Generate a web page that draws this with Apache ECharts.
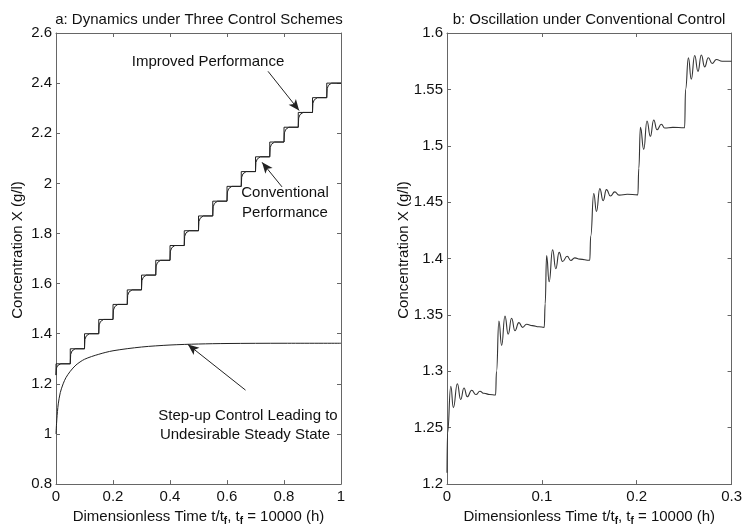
<!DOCTYPE html>
<html>
<head>
<meta charset="utf-8">
<title>Control schemes</title>
<script src="https://cdn.jsdelivr.net/npm/echarts/dist/echarts.min.js"></script>
<style>
  html, body { margin: 0; padding: 0; background: #fff; }
  #chart { width: 745px; height: 531px; }
</style>
</head>
<body>
<div id="chart"></div>
<script>
// ---- plot a: the three control schemes ----
// time at which each set point step starts (t/tf)
var stepTimes = [0, 0.05, 0.1, 0.15, 0.2, 0.25, 0.3, 0.35, 0.4, 0.45,
                 0.5, 0.55, 0.6, 0.65, 0.7, 0.75, 0.8, 0.85, 0.9, 0.95];
// level reached on each step
var stepLevels = [1.28, 1.34, 1.40, 1.457, 1.517, 1.575, 1.634, 1.693, 1.752, 1.811,
                  1.870, 1.929, 1.988, 2.047, 2.106, 2.165, 2.224, 2.283, 2.342, 2.40];
var stairStart = 1.235;
// shape of the improved rise inside one step (time offset, share of the rise done)
var improvedDt = [0, 0.0015, 0.006, 0.017];
var improvedShare = [0, 0.62, 0.85, 1];
// step-up control curve
var stepUpT = [0, 0.003, 0.008, 0.015, 0.025, 0.035, 0.05, 0.07, 0.1, 0.15, 0.2, 0.3, 0.4, 0.5, 0.6, 0.8, 1.0];
var stepUpX = [1.0, 1.06, 1.12, 1.165, 1.2, 1.225, 1.25, 1.275, 1.298, 1.318, 1.332, 1.347, 1.355, 1.359, 1.361, 1.362, 1.362];
// annotation arrows [fromT, fromX, toT, toX]
var arrowsA = [
  [0.744, 2.447, 0.853, 2.291],
  [0.793, 1.986, 0.723, 2.084],
  [0.665, 1.175, 0.463, 1.357]
];

// ---- plot b: oscillation under conventional control ----
var oscT = [0, 0.0005, 0.004, 0.0067, 0.0109, 0.0144, 0.0179, 0.0214, 0.026, 0.0305, 0.0347, 0.039, 0.045, 0.0512,
            0.0522, 0.0547, 0.0576, 0.0611, 0.0645, 0.0681, 0.0716, 0.0758, 0.0797, 0.0839, 0.09, 0.097, 0.1025,
            0.1035, 0.105, 0.1077, 0.1113, 0.1147, 0.1182, 0.1218, 0.1267, 0.1305, 0.1347, 0.14, 0.1505,
            0.1515, 0.1547, 0.1576, 0.1611, 0.1646, 0.1681, 0.1723, 0.1768, 0.1814, 0.19, 0.2012,
            0.2022, 0.2039, 0.2074, 0.2108, 0.2144, 0.2179, 0.2214, 0.226, 0.2295, 0.238, 0.2505,
            0.2515, 0.2545, 0.2575, 0.2611, 0.2646, 0.2681, 0.2716, 0.2755, 0.2795, 0.284, 0.29, 0.3];
var oscX = [1.21, 1.245, 1.2867, 1.2678, 1.289, 1.275, 1.2852, 1.2774, 1.2832, 1.2794, 1.2823, 1.2805, 1.2795, 1.279,
            1.30, 1.3446, 1.3229, 1.349, 1.333, 1.347, 1.336, 1.3432, 1.339, 1.3417, 1.3405, 1.3395, 1.339,
            1.36, 1.4026, 1.3794, 1.4078, 1.391, 1.4055, 1.3974, 1.402, 1.3983, 1.4006, 1.3995, 1.3985,
            1.42, 1.4577, 1.4417, 1.462, 1.4513, 1.4611, 1.4554, 1.4591, 1.4562, 1.457, 1.4565,
            1.48, 1.5163, 1.4968, 1.522, 1.5084, 1.5229, 1.5142, 1.5191, 1.5157, 1.5163, 1.516,
            1.55, 1.578, 1.559, 1.58, 1.566, 1.5805, 1.570, 1.578, 1.573, 1.5765, 1.575, 1.575];

var lineColor = '#222';
var boxColor = '#666';
var fontName = 'Liberation Sans';

function pairs(xs, ys) {
  var out = [];
  for (var i = 0; i < xs.length; i++) out.push([xs[i], ys[i]]);
  return out;
}

// conventional: sharp steps
var conventional = [[0, stairStart]];
stepTimes.forEach(function (t, k) {
  if (k > 0) conventional.push([t, stepLevels[k - 1]]);
  conventional.push([t, stepLevels[k]]);
});
conventional.push([1, stepLevels[stepLevels.length - 1]]);

// improved: quick rise that bends onto the new level
var improved = [];
stepTimes.forEach(function (t, k) {
  var from = k > 0 ? stepLevels[k - 1] : stairStart;
  improvedDt.forEach(function (dt, j) {
    improved.push([t + dt, from + improvedShare[j] * (stepLevels[k] - from)]);
  });
});
improved.push([1, stepLevels[stepLevels.length - 1]]);

var arrowData = arrowsA.map(function (a) {
  return [{ coord: [a[0], a[1]] }, { coord: [a[2], a[3]] }];
});

function mainX(grid, max, interval) {
  return {
    type: 'value', gridIndex: grid, min: 0, max: max, interval: interval, position: 'bottom',
    name: 'Dimensionless Time t/t{s|f}, t{s|f} = 10000 (h)',
    nameLocation: 'middle', nameGap: 22,
    nameTextStyle: {
      color: '#111', fontFamily: fontName, fontSize: 15,
      rich: { s: { fontFamily: fontName, fontSize: 10, fontWeight: 'bold', color: '#111', padding: [9, 0, 0, 0] } }
    },
    axisLine: { show: true, lineStyle: { color: boxColor, width: 1 } },
    axisTick: { show: true, inside: true, length: 4, lineStyle: { color: boxColor } },
    axisLabel: { show: true, margin: 5, color: '#111', fontFamily: fontName, fontSize: 15 },
    splitLine: { show: false }
  };
}
function mainY(grid, min, max, interval) {
  return {
    type: 'value', gridIndex: grid, min: min, max: max, interval: interval, position: 'left',
    axisLine: { show: true, lineStyle: { color: boxColor, width: 1 } },
    axisTick: { show: true, inside: true, length: 4, lineStyle: { color: boxColor } },
    axisLabel: { show: true, margin: 4, color: '#111', fontFamily: fontName, fontSize: 15 },
    splitLine: { show: false }
  };
}
// top / right edges of the box, ticks only
function boxAxis(grid, min, max, interval, pos) {
  return {
    type: 'value', gridIndex: grid, min: min, max: max, interval: interval, position: pos,
    axisLine: { show: true, onZero: false, lineStyle: { color: boxColor, width: 1 } },
    axisTick: { show: true, inside: true, length: 4, lineStyle: { color: boxColor } },
    axisLabel: { show: false },
    splitLine: { show: false }
  };
}
function txt(x, y, s, rot) {
  return {
    type: 'text', x: x, y: y, rotation: rot || 0,
    style: { text: s, align: 'center', verticalAlign: 'middle', fill: '#111', font: '15px ' + fontName }
  };
}

var myChart = echarts.init(document.getElementById('chart'));
var option = {
  animation: false,
  backgroundColor: '#fff',
  grid: [
    { left: 56, top: 33, width: 285, height: 460 },
    { left: 447, top: 33, width: 285, height: 460 }
  ],
  xAxis: [
    mainX(0, 1, 0.2),
    boxAxis(0, 0, 1, 0.2, 'top'),
    mainX(1, 0.3, 0.1),
    boxAxis(1, 0, 0.3, 0.1, 'top')
  ],
  yAxis: [
    mainY(0, 0.8, 2.6, 0.2),
    boxAxis(0, 0.8, 2.6, 0.2, 'right'),
    mainY(1, 1.2, 1.6, 0.05),
    boxAxis(1, 1.2, 1.6, 0.05, 'right')
  ],
  series: [
    {
      name: 'Conventional', type: 'line', xAxisIndex: 0, yAxisIndex: 0,
      showSymbol: false, data: conventional,
      lineStyle: { color: lineColor, width: 1 }
    },
    {
      name: 'Improved', type: 'line', xAxisIndex: 0, yAxisIndex: 0,
      showSymbol: false, data: improved,
      lineStyle: { color: lineColor, width: 1 }
    },
    {
      name: 'Step-up', type: 'line', xAxisIndex: 0, yAxisIndex: 0,
      showSymbol: false, smooth: 0.3, data: pairs(stepUpT, stepUpX),
      lineStyle: { color: lineColor, width: 1 },
      markLine: {
        silent: true, symbol: ['none', 'arrow'], symbolSize: [7, 11],
        label: { show: false },
        lineStyle: { color: lineColor, width: 1, type: 'solid' },
        data: arrowData
      }
    },
    {
      name: 'Oscillation', type: 'line', xAxisIndex: 2, yAxisIndex: 2,
      showSymbol: false, smooth: 0.5, smoothMonotone: 'x', data: pairs(oscT, oscX),
      lineStyle: { color: '#333', width: 1.1 }
    }
  ],
  graphic: [
    txt(199, 20, 'a: Dynamics under Three Control Schemes'),
    txt(589, 20, 'b: Oscillation under Conventional Control'),
    txt(18, 250, 'Concentration X (g/l)', Math.PI / 2),
    txt(404, 250, 'Concentration X (g/l)', Math.PI / 2),
    txt(208, 62, 'Improved Performance'),
    txt(285, 193, 'Conventional'),
    txt(285, 213, 'Performance'),
    txt(248, 416, 'Step-up Control Leading to'),
    txt(245, 435, 'Undesirable Steady State')
  ]
};
myChart.setOption(option);
</script>
</body>
</html>
